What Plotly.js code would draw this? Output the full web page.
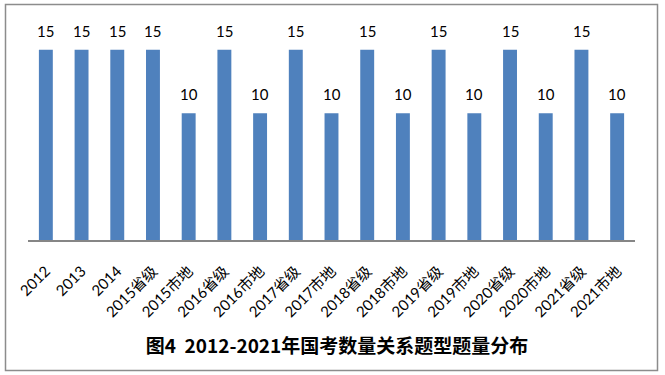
<!DOCTYPE html>
<html><head><meta charset="utf-8">
<script src="https://cdn.plot.ly/plotly-3.0.1.min.js"></script>
<style>html,body{margin:0;padding:0;background:#fff;}#chart{width:665px;height:375px;}</style>
</head><body><div id="chart"></div>
<script>
const categories = ["2012","2013","2014","2015省级","2015市地","2016省级","2016市地","2017省级","2017市地","2018省级","2018市地","2019省级","2019市地","2020省级","2020市地","2021省级","2021市地"];
const values = [15,15,15,15,10,15,10,15,10,15,10,15,10,15,10,15,10];
const titleText = "图4  2012-2021年国考数量关系题型题量分布";

const L = 28, R = 30, T = 37, B = 135;
const W = 665, H = 375;
const pw = W - L - R, ph = H - T - B;
const px = x => (x - L) / pw;
const py = y => (H - B - y) / ph;

const trace = {
  type: 'bar', x: categories, y: values,
  marker: {color: '#4f81bd'},
  hoverinfo: 'none'
};
const annotations = categories.map((c, i) => ({
  x: i, y: values[i], xref: 'x', yref: 'y',
  text: String(values[i]), showarrow: false,
  yanchor: 'middle', yshift: 19,
  font: {family: 'Lato, "Liberation Sans", sans-serif', size: 15, color: '#000'}
}));
const layout = {
  width: W, height: H,
  margin: {l: L, r: R, t: T, b: B, pad: 0},
  paper_bgcolor: '#fff', plot_bgcolor: '#fff',
  showlegend: false,
  bargap: 0.61,
  title: {text: '<b>' + titleText + '</b>', x: 337 / W, xanchor: 'center', y: 1 - 346 / H, yanchor: 'middle',
          font: {family: '"Noto Sans CJK SC", sans-serif', size: 19, color: '#000'}},
  xaxis: {type: 'category', categoryorder: 'array', categoryarray: categories,
          range: [-0.5, categories.length - 0.5], tickangle: -45,
          showline: true, linecolor: '#868686', linewidth: 1.5,
          ticks: '', showgrid: false, zeroline: false, ticklabelstandoff: 15,
          tickfont: {family: 'Lato, "Noto Sans CJK SC", sans-serif', size: 15, color: '#000'}},
  yaxis: {range: [0, 16], visible: false, showgrid: false, zeroline: false},
  annotations: annotations,
  shapes: [{type: 'rect', xref: 'paper', yref: 'paper',
            x0: px(5.5), x1: px(657.5), y0: py(370.5), y1: py(4.5),
            line: {color: '#8c8c8c', width: 1.5}, fillcolor: 'rgba(0,0,0,0)'}]
};
Plotly.newPlot('chart', [trace], layout, {displayModeBar: false, staticPlot: true});
</script></body></html>
